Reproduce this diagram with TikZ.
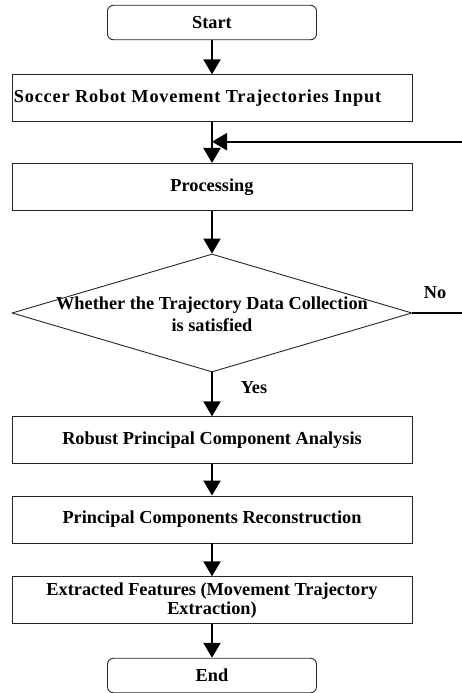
\documentclass[tikz,border=0pt]{standalone}
\usepackage{fontspec}
\setmainfont{Liberation Serif}
\usetikzlibrary{arrows.meta,shapes.geometric}
\begin{document}
\begin{tikzpicture}[x=1pt,y=-1pt,
  every node/.style={font=\fontsize{18.3}{20}\selectfont\bfseries},
  stepbox/.style={draw=black!85,line width=0.9pt,minimum width=400pt,minimum height=47pt,inner sep=0pt,align=center},
  termbox/.style={draw=black!85,line width=0.9pt,rounded corners=6pt,minimum width=209pt,minimum height=34.5pt,inner sep=0pt},
  flow/.style={line width=2.2pt,-{Triangle[width=17pt,length=15pt]}},
  plain/.style={line width=2.2pt}]
\useasboundingbox (0,0) rectangle (462,693);
\node[termbox] (start) at (212,22.5) {Start};
\node[stepbox] (input) at (212,98.3) {\raisebox{4pt}{\addfontfeature{LetterSpace=4.4}Soccer Robot Movement Trajectories Input\hspace*{29pt}}};
\node[stepbox] (proc) at (212,186.9) {\raisebox{-2pt}{Processing}};
\node[draw=black!85,line width=0.9pt,shape=diamond,minimum width=400pt,minimum height=118pt,inner sep=0pt] (dia) at (212,313) {};
\node[align=center,inner sep=0pt] (dtext) at (212,314) {Whether the Trajectory Data Collection\\[2pt]is satisfied};
\node[stepbox] (rpca) at (212,440.3) {Robust Principal Component Analysis};
\node[stepbox] (pcr) at (212,519.5) {Principal Components Reconstruction};
\node[stepbox] (feat) at (212,600.3) {Extracted Features (Movement Trajectory\\[-1pt]Extraction)};
\node[termbox] (end) at (212,675.5) {End};
\node[inner sep=0pt] (no) at (435,292.7) {No};
\node[inner sep=0pt] (yes) at (254,388) {Yes};
\coordinate (fbin) at (462,141.7);
\coordinate (fb) at (212,141.7);
\coordinate (noend) at (462,313);
\draw[flow] (start) -- (input);
\draw[flow] (input) -- (proc);
\draw[flow] (fbin) -- (fb);
\draw[flow] (proc) -- (dia.north);
\draw[plain] (dia.east) -- (noend);
\draw[flow] (dia.south) -- (rpca);
\draw[flow] (rpca) -- (pcr);
\draw[flow] (pcr) -- (feat);
\draw[flow] (feat) -- (end);
\end{tikzpicture}
\end{document}
